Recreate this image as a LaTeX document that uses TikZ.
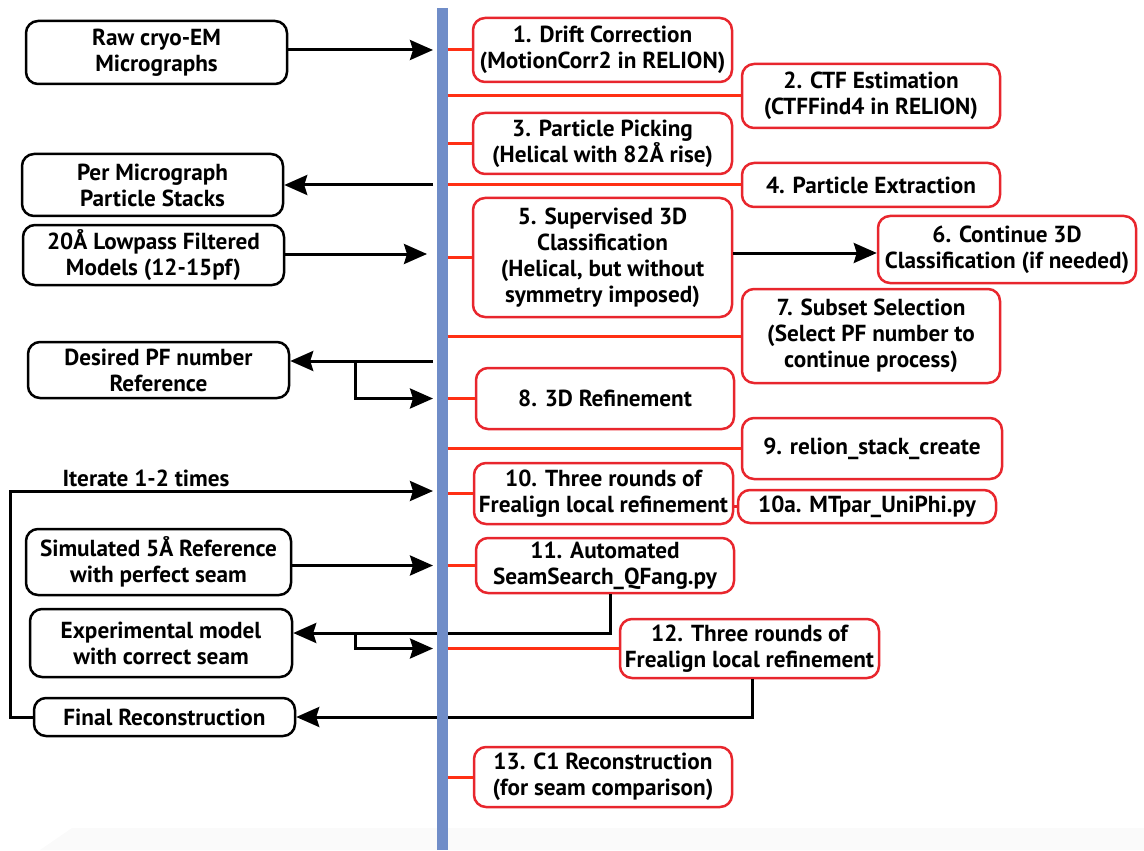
\documentclass[tikz,border=0pt]{standalone}
\usepackage{fontspec}
\setmainfont{PT Sans}
\usetikzlibrary{arrows.meta,calc}
\definecolor{barblue}{RGB}{112,141,200}
\definecolor{boxred}{RGB}{232,38,45}
\definecolor{stubred}{RGB}{255,48,20}
\definecolor{faint}{RGB}{250,250,250}
\tikzset{
  wh/.style 2 args={minimum width=#1*0.5pt,minimum height=#2*0.5pt},
  txt/.style={font=\fontsize{11.6pt}{13pt}\selectfont\bfseries,align=center},
  blackbox/.style={txt,draw=black,line width=1.25pt,rounded corners=6pt,inner sep=0pt},
  redbox/.style={txt,draw=boxred,line width=1.25pt,rounded corners=6pt,inner sep=0pt},
  arr/.style={draw=black,line width=1.5pt,-{Stealth[length=11.5pt,width=10pt,inset=1.5pt]}},
  stub/.style={draw=stubred,line width=1.5pt},
  link/.style={draw=boxred,line width=1.2pt}
}
\begin{document}
\begin{tikzpicture}[x=0.5pt,y=-0.5pt]
\useasboundingbox (0,0) rectangle (1144,850);
\fill[faint] (40,850) -- (72,828) -- (1144,828) -- (1144,850) -- cycle;

% left boxes
\node[blackbox,wh={261}{63}] (L1) at (156.5,52.5) {Raw cryo-EM\\Micrographs};
\node[blackbox,wh={261}{62}] (L2) at (152.5,185) {Per Micrograph\\Particle Stacks};
\node[blackbox,wh={261}{60}] (L3) at (153.5,255) {20Å Lowpass Filtered\\Models (12-15pf)};
\node[blackbox,wh={261}{56}] (L4) at (158.5,370) {Desired PF number\\Reference};
\node[blackbox,wh={265}{66}] (L5) at (158.5,562) {Simulated 5Å Reference\\with perfect seam};
\node[blackbox,wh={262}{68}] (L6) at (161,643) {Experimental model\\with correct seam};
\node[blackbox,wh={261}{38}] (L7) at (164.5,717) {Final Reconstruction};
\node[txt] (iter) at (146,478) {Iterate 1-2 times};

% right boxes
\node[redbox,wh={259}{64}] (R1) at (602.5,50) {1. Drift Correction\\(MotionCorr2 in RELION)};
\node[redbox,wh={258}{64}] (R2) at (871,96) {2. CTF Estimation\\(CTFFind4 in RELION)};
\node[redbox,wh={259}{61}] (R3) at (602.5,143.5) {3. Particle Picking\\(Helical with 82Å rise)};
\node[redbox,wh={258}{44}] (R4) at (871,185) {4. Particle Extraction};
\node[redbox,wh={259}{119}] (R5) at (602.5,257.5) {5. Supervised 3D\\Classification\\(Helical, but without\\symmetry imposed)};
\node[redbox,wh={258}{67}] (R6) at (1007,249.5) {6. Continue 3D\\Classification (if needed)};
\node[redbox,wh={258}{94}] (R7) at (871,336) {7. Subset Selection\\(Select PF number to\\continue process)};
\node[redbox,wh={258}{61}] (R8) at (605,398.5) {8. 3D Refinement};
\node[redbox,wh={260}{61}] (R9) at (872,448.5) {9. relion\_stack\_create};
\node[redbox,wh={259}{61}] (R10) at (603.5,493.5) {10. Three rounds of\\Frealign local refinement};
\node[redbox,wh={258}{33}] (R10a) at (867,506.5) {10a. MTpar\_UniPhi.py};
\node[redbox,wh={258}{55}] (R11) at (605,565.5) {11. Automated\\SeamSearch\_QFang.py};
\node[redbox,wh={259}{59}] (R12) at (749.5,648.5) {12. Three rounds of\\Frealign local refinement};
\node[redbox,wh={258}{60}] (R13) at (603,777) {13. C1 Reconstruction\\(for seam comparison)};

% helper coordinates
\coordinate (tipx) at (433,0);
\coordinate (tipx2) at (427,0);
\coordinate (loopx) at (10,0);
\coordinate (j1) at (355,361);
\coordinate (j2) at (355,633);

% black connectors
\draw[arr] (L1.east |- R1.west) -- (R1.west -| tipx);
\draw[arr] (L2.east -| tipx) -- (L2.east);
\draw[arr] ([yshift=0.5pt]L3.east) -- ([yshift=0.5pt]L3.east -| tipx2);
\draw[arr] (j1 -| tipx) -- ([yshift=4.5pt]L4.east);
\draw[arr] (j1) |- (R8.west -| tipx);
\draw[arr] (L7.west) -- (L7.west -| loopx) |- ([yshift=1.25pt]R10.west -| tipx);
\draw[arr] (L5.east |- R11.west) -- (R11.west -| tipx);
\draw[arr] ([xshift=2.5pt]R11.south) |- ([yshift=5pt]L6.east);
\draw[arr] (j2) |- (R12.west -| tipx);
\draw[arr] ([xshift=1.25pt]R12.south) |- (L7.east);
\draw[arr] ([yshift=2.25pt]R5.east) -- ([yshift=2.25pt]R5.east -| R6.west);

% blue bar
\node[fill=barblue,minimum width=5.5pt,minimum height=421pt,inner sep=0pt,anchor=north] (bar) at (442,8) {};

% red stubs
\foreach \b in {R1,R2,R3,R4,R5,R7,R8,R9,R10,R11,R12,R13}{
  \draw[stub] (bar.east |- \b.west) -- (\b.west);
}
\draw[link] (R10.east |- R10a.west) -- (R10a.west);
\end{tikzpicture}
\end{document}
